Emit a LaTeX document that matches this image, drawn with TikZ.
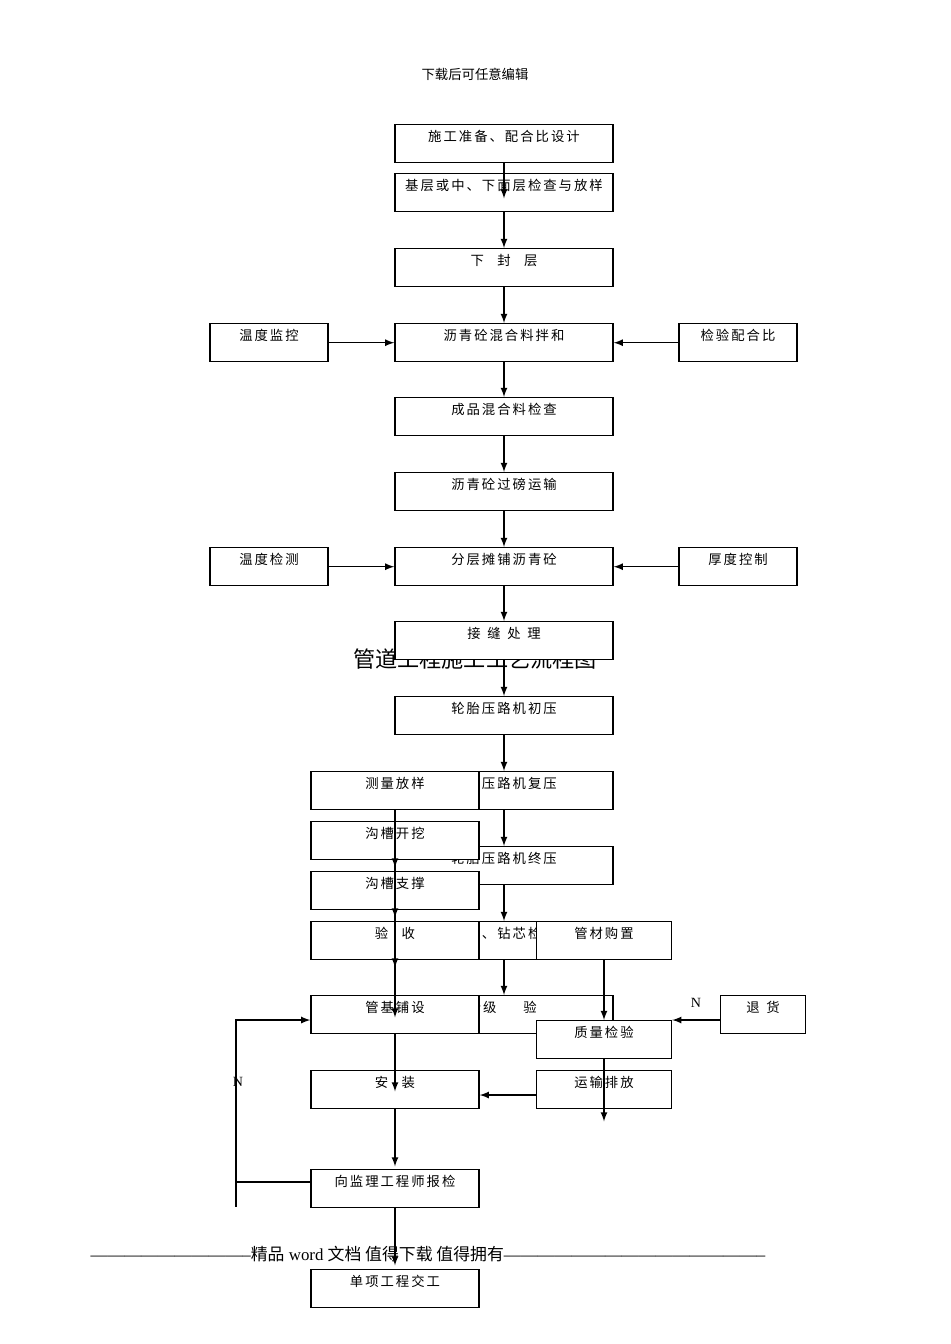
\documentclass[tikz,border=0pt]{standalone}
\usepackage{fontspec}
\setmainfont{Liberation Serif}
\newfontfamily\cjk[LetterSpace=15]{Noto Sans CJK SC}
\newfontfamily\cjkplain{Noto Sans CJK SC}
\usetikzlibrary{arrows,positioning}

\begin{document}
\begin{tikzpicture}[x=0.02cm,y=-0.02cm,
  every node/.style={font=\cjk\fontsize{7.6}{9}\selectfont},
  box/.style={draw,thick,fill=white,rectangle,anchor=north,inner sep=0pt,
              text height=0.34cm,text depth=0.42cm,minimum width=#1},
  box/.default=4.36cm,
  side/.style={box=2.36cm},
  pipe/.style={box=3.36cm},
  buy/.style={box=2.7cm},
  flow/.style={-latex,thick},
  lbl/.style={font=\rmfamily\fontsize{8}{9}\selectfont,inner sep=0pt}]
\useasboundingbox (0,0) rectangle (950,1344);

\node (hdr) at (475,74) {\cjkplain\fontsize{7.6}{9}\selectfont 下载后可任意编辑};

% title, partly covered by the boxes
\node (ttl) [font=\cjkplain\fontsize{12.6}{14}\selectfont] at (475,659) {管道工程施工工艺流程图};

% road flow
\node (r1) [box] at (504,124) {施工准备、配合比设计};
\node (r2) [box] at (504,173) {基层或中、下面层检查与放样};
\node (r3) [box] at (504,248) {下\quad 封\quad 层};
\node (r4) [box] at (504,323) {沥青砼混合料拌和};
\node (r5) [box] at (504,397) {成品混合料检查};
\node (r6) [box] at (504,472) {沥青砼过磅运输};
\node (r7) [box] at (504,547) {分层摊铺沥青砼};
\node (r8) [box] at (504,621) {接\enspace 缝\enspace 处\enspace 理};
\node (r9) [box] at (504,696) {轮胎压路机初压};
\node (r10) [box] at (504,771) {钢轮压路机复压};
\node (r11) [box] at (504,846) {轮胎压路机终压};
\node (r12) [box] at (504,921) {取样、钻芯检测};
\node (r13) [box] at (504,995) {};
\node (r13t) [anchor=north east,text height=0.34cm,inner sep=0pt] at (537,995) {分级\qquad 验};

\node (t1) [side] at (269,323) {温度监控};
\node (t2) [side] at (269,547) {温度检测};
\node (c1) [side] at (738,323) {检验配合比};
\node (c2) [side] at (738,547) {厚度控制};

\draw [flow] (r1.south) -- ++(0,35);
\foreach \a/\b in {r2/r3,r3/r4,r4/r5,r5/r6,r6/r7,r7/r8,r8/r9,r9/r10,r10/r11,r11/r12,r12/r13}
  \draw [flow] (\a.south) -- (\b.north);
\draw [flow] (t1.east) -- (r4.west);
\draw [flow] (c1.west) -- (r4.east);
\draw [flow] (t2.east) -- (r7.west);
\draw [flow] (c2.west) -- (r7.east);

% pipe flow
\node (p1) [pipe] at (395,771) {测量放样};
\node (p2) [pipe] at (395,821) {沟槽开挖};
\node (p3) [pipe] at (395,871) {沟槽支撑};
\node (p4) [pipe] at (395,921) {验\quad 收};
\node (p5) [pipe] at (395,995) {管基铺设};
\node (p6) [pipe] at (395,1070) {安\quad 装};
\node (p7) [pipe] at (395,1169) {向监理工程师报检};
\node (p8) [pipe] at (395,1269) {单项工程交工};

\node (m1) [buy] at (604,921) {管材购置};
\node (m2) [buy] at (604,1020) {质量检验};
\node (m3) [buy] at (604,1070) {运输排放};
\node (m4) [box=1.7cm] at (763,995) {退\enspace 货};

\foreach \p in {p1,p2,p3,p4,p5,p6,p7}
  \draw [flow] (\p.south) -- ++(0,57);
\draw [flow] (m1.south) -- (m2.north);
\draw [flow] (m2.south) -- ++(0,62);
\draw [flow] (m4.west |- m2.north) -- (m2.north east) node [lbl,pos=0.5,above=7pt] {N};
\draw [flow] (m3.west |- 0,1095) -- (p6.east |- 0,1095);
\coordinate (fb) at (236,1207);
\draw [flow] (p7.west |- 0,1182) -- (236,1182) -- (236,1020) -- (p5.west |- 0,1020);
\draw [thick] (236,1182) -- (fb);
\node (nn) [lbl] at (238,1082) {N};

\node (ftr) [font=\rmfamily\fontsize{9.6}{11}\selectfont,inner sep=0pt] at (428,1254)
  {-----------------------------{\cjkplain 精品} word {\cjkplain 文档 值得下载 值得拥有}-----------------------------------------------};
\end{tikzpicture}
\end{document}
